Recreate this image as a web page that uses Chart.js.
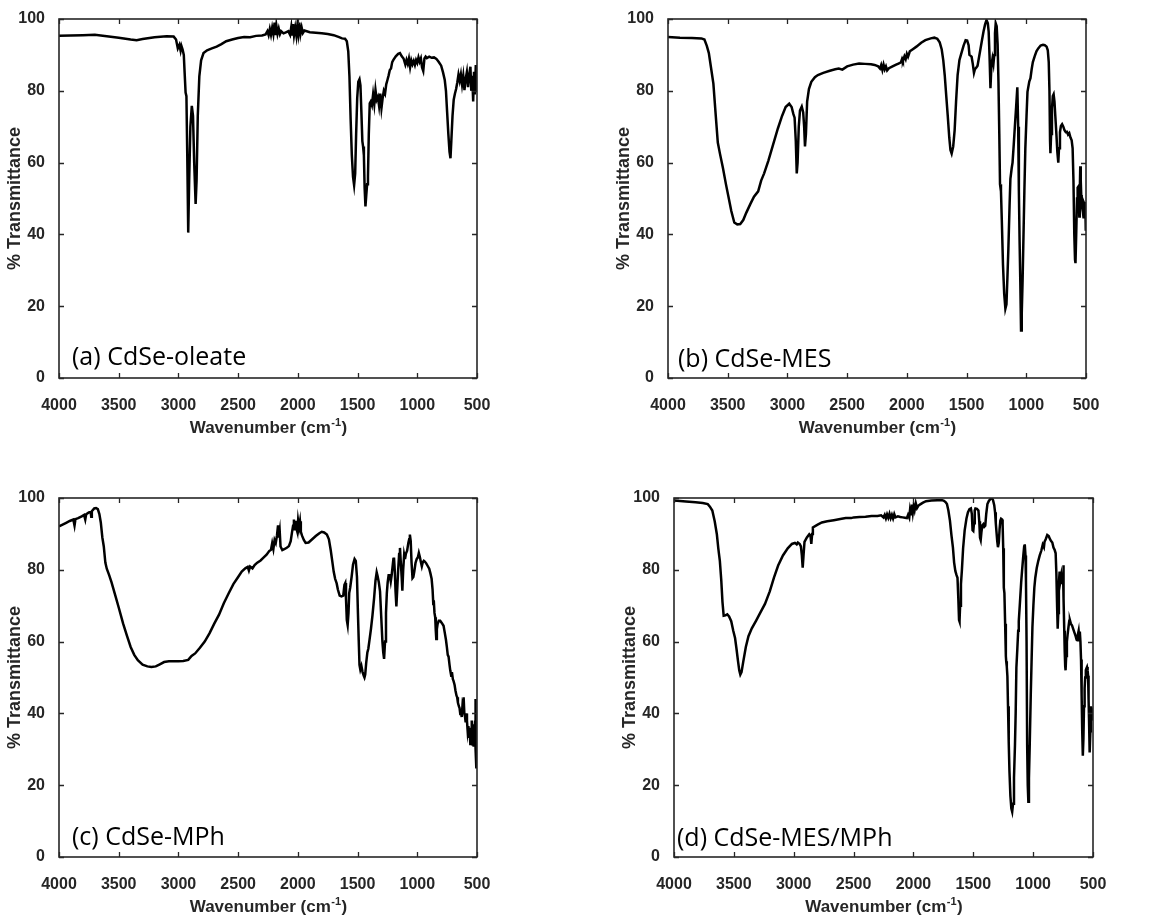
<!DOCTYPE html>
<html>
<head>
<meta charset="utf-8">
<script src="https://cdn.jsdelivr.net/npm/chart.js@4/dist/chart.umd.min.js"></script>
<style>
html,body{margin:0;padding:0;background:#fff;}
body{position:relative;width:1168px;height:916px;overflow:hidden;}
canvas{position:absolute;display:block;}
</style>
</head>
<body>
<canvas id="pa" width="584" height="458" style="left:0px;top:0px;width:584px;height:458px"></canvas>
<canvas id="pb" width="559" height="458" style="left:609px;top:0px;width:559px;height:458px"></canvas>
<canvas id="pc" width="584" height="458" style="left:0px;top:479px;width:584px;height:458px"></canvas>
<canvas id="pd" width="553" height="458" style="left:615px;top:479px;width:553px;height:458px"></canvas>
<script>
// ---------- data ----------
const xTicks = [4000, 3500, 3000, 2500, 2000, 1500, 1000, 500];
const yTicks = [0, 20, 40, 60, 80, 100];
const panelLabels = ['(a) CdSe-oleate', '(b) CdSe-MES', '(c) CdSe-MPh', '(d) CdSe-MES/MPh'];
const xTitleMain = 'Wavenumber (cm';
const xTitleSup = '-1';
const xTitleEnd = ')';
const yTitle = '% Transmittance';

// [wavenumber, %T]
const oleateSpectrum = [
[4000,95.3],[3900,95.4],[3800,95.5],[3700,95.6],[3600,95.2],[3500,94.8],[3400,94.3],[3350,94.1],[3300,94.4],[3200,94.9],
[3100,95.2],[3040,95.1],[3020,94.3],[3005,91.8],[2992,92.8],[2982,91.2],[2975,92.5],[2965,91.5],[2955,90],[2948,85],
[2940,79.5],[2933,78.5],[2926,62],[2918,40.5],[2910,55],[2900,70],[2888,75.8],[2878,73],[2868,60],[2856,48.5],
[2848,55],[2838,73],[2825,84],[2810,88.5],[2790,90.5],[2760,91.3],[2720,91.8],[2680,92.3],[2640,93],[2600,93.8],
[2550,94.3],[2500,94.7],[2450,95.0],[2400,94.9],[2350,95.3],[2300,95.4],[2270,95.7],[2255,96.6],[2245,95.5],[2235,97.2],
[2225,95.6],[2215,97.6],[2205,95.8],[2195,99.0],[2188,95.5],[2180,98.2],[2170,95.9],[2160,97.3],[2150,95.8],[2140,96.6],
[2120,96.0],[2100,96.3],[2080,96.6],[2065,95.6],[2055,97.8],[2048,95.4],[2040,98.6],[2032,95.5],[2022,97.6],[2012,95.3],
[2004,98.2],[1996,96.0],[1988,99.0],[1978,95.8],[1968,97.6],[1958,96.1],[1945,96.8],[1900,96.3],[1850,96.2],[1800,96.0],
[1750,95.8],[1700,95.5],[1660,95.0],[1630,94.6],[1605,94.5],[1590,93.8],[1578,91],[1568,84],[1558,72],[1548,62],
[1538,56],[1529,53.7],[1520,57],[1512,68],[1503,78],[1494,82.5],[1484,83.2],[1476,81.5],[1468,74],[1460,66],
[1454,64.5],[1447,62],[1441,53],[1434,47.8],[1427,51],[1420,54],[1413,56],[1406,68],[1398,76.5],[1390,77],
[1380,76],[1370,79],[1360,76.3],[1350,80.2],[1340,77.5],[1330,78.3],[1320,75.8],[1310,79.2],[1300,75.2],[1290,78],
[1280,80],[1270,79.2],[1260,81.8],[1250,83],[1240,84.3],[1230,85.8],[1220,86.2],[1210,88],[1200,88.6],[1180,89.6],
[1160,90.3],[1145,90.5],[1130,89.6],[1115,89],[1100,87.3],[1090,88.6],[1080,87.5],[1070,89],[1060,86.6],[1050,88.5],
[1040,87.4],[1030,88.3],[1020,87.2],[1010,88.6],[1000,87.8],[990,89.3],[980,88.1],[970,89],[960,86.5],[950,85.5],
[940,89],[930,89.5],[920,89.1],[900,89.5],[880,89.2],[860,89.3],[840,88.9],[820,88],[800,87],[785,85.2],
[770,83],[760,80],[750,74],[740,68],[730,63],[722,61.2],[715,66],[705,73],[695,77.5],[685,79.2],
[675,80.5],[665,82.3],[655,84.5],[645,82.8],[635,84.6],[625,81.8],[615,84.2],[605,80.2],[595,83.3],[585,85.2],
[575,81],[565,84.6],[555,86.7],[548,80],[540,84.2],[532,77],[525,85.3],[518,79],[510,87.2],[505,80],[500,86]
];

const mesSpectrum = [
[4000,95.0],[3900,94.8],[3800,94.7],[3720,94.6],[3695,94.3],[3675,92.5],[3658,90.5],[3640,86.5],[3620,82],[3600,73],
[3583,65.6],[3565,62.5],[3540,58.5],[3515,54],[3495,50.7],[3470,46.5],[3445,43.3],[3420,42.8],[3395,42.9],[3370,44],
[3345,46],[3310,48.5],[3280,50.5],[3245,52],[3220,55],[3195,57],[3160,60.5],[3120,65],[3080,69.5],[3045,73],
[3015,75.5],[2985,76.4],[2965,75.5],[2950,73.5],[2940,72.5],[2930,66],[2922,57],[2915,60],[2905,70],[2895,74.5],
[2880,75.6],[2868,74],[2860,70],[2853,64.5],[2845,68],[2835,77],[2820,80.5],[2800,82.5],[2770,83.8],[2745,84.4],
[2700,85],[2645,85.6],[2600,86],[2570,86.2],[2540,85.9],[2500,86.8],[2450,87.3],[2400,87.6],[2350,87.5],[2300,87.4],
[2270,87.2],[2240,86.8],[2225,86.2],[2215,87.2],[2205,85.8],[2195,87.3],[2185,86],[2175,86.8],[2165,85.7],[2150,86.3],
[2120,86.8],[2090,87.3],[2070,87.6],[2050,87.9],[2040,88.9],[2033,88.3],[2020,89.6],[2010,88.8],[2000,90.3],[1990,89.5],
[1975,91],[1950,91.6],[1920,92.3],[1880,93.4],[1845,94.1],[1800,94.6],[1770,94.8],[1745,94.5],[1725,93.5],[1708,91.5],
[1695,88.5],[1683,84.4],[1670,78.5],[1658,73.2],[1645,67],[1635,63.5],[1625,62.5],[1612,64.5],[1600,69],[1588,77],
[1575,84.4],[1560,88.5],[1545,90.3],[1525,92.6],[1508,94.1],[1495,94],[1483,92.7],[1476,90],[1468,89.8],[1458,89.5],
[1448,87.5],[1438,85],[1430,86],[1418,86.5],[1408,87],[1395,89.5],[1383,91.8],[1370,94.3],[1358,96.5],[1345,98.5],
[1333,99.7],[1322,98.8],[1315,96.5],[1308,90],[1300,80.7],[1292,87],[1283,89],[1275,87.5],[1268,90],[1262,96],
[1256,98.8],[1248,98],[1240,93],[1233,82.5],[1226,68],[1220,54],[1212,52],[1205,44],[1195,31.5],[1185,23.5],
[1175,19.3],[1166,20.5],[1158,28],[1150,36],[1140,48],[1133,55.5],[1122,58.5],[1115,60],[1105,65],[1095,70.4],
[1085,75.5],[1075,81],[1068,70],[1062,52],[1056,38],[1050,26.7],[1044,13.2],[1038,18],[1031,27],[1025,37],
[1016,52],[1008,63.9],[998,73],[990,79.7],[975,82.6],[965,83.5],[955,86],[945,88],[930,89.6],[915,91],
[900,91.8],[880,92.6],[860,92.8],[845,92.7],[830,92.3],[820,91.3],[812,88],[806,80],[801,66],[798,62.6],
[792,68],[785,75],[778,78.5],[771,79],[764,77],[757,73],[748,68],[740,63],[732,60],[726,64],
[718,68.5],[710,70.2],[700,70.7],[690,70],[680,69],[670,68.5],[660,68.6],[650,67.8],[640,68.2],[630,67],
[620,66.2],[612,64],[605,55],[598,40],[592,33],[588,32],[582,40],[575,50],[570,53],[564,53.3],
[560,50],[556,45],[552,52],[548,59],[544,55],[540,51],[536,48],[530,47],[525,46],[522,44.5],
[518,49],[514,48.5],[510,45.5],[506,49],[502,41],[500,48]
];

const mphSpectrum = [
[4000,92.1],[3970,92.6],[3940,93.1],[3910,93.6],[3880,94.0],[3870,92.3],[3862,94.1],[3840,94.4],[3810,94.9],[3790,95.3],
[3780,94.0],[3772,95.5],[3750,96.0],[3735,96.1],[3730,94.8],[3725,96.3],[3705,97.1],[3690,97.2],[3675,96.9],[3662,95.5],
[3650,93.2],[3637,89],[3625,86.5],[3612,82],[3600,80.3],[3580,78.5],[3560,76.5],[3530,73],[3500,69.5],[3463,65],
[3430,61.5],[3400,58.5],[3370,56.3],[3340,54.8],[3300,53.6],[3260,53.1],[3226,52.9],[3190,53.1],[3160,53.6],[3120,54.3],
[3080,54.5],[3040,54.5],[3000,54.5],[2960,54.6],[2918,54.9],[2890,56],[2860,56.7],[2820,58.3],[2780,60],[2740,62.3],
[2700,65],[2660,67.5],[2620,70.7],[2580,73.4],[2540,76],[2500,78],[2470,79.5],[2440,80.4],[2420,80.8],[2410,79.8],
[2400,80.9],[2380,80.4],[2362,81.3],[2340,82],[2312,82.6],[2290,83.3],[2262,84.2],[2240,85.2],[2225,85.6],[2215,87.4],
[2205,85.8],[2195,88.3],[2185,87.5],[2175,89.5],[2166,92.4],[2160,89],[2152,90.8],[2145,86.5],[2130,85.5],[2110,85.8],
[2090,86.2],[2075,86.6],[2060,88],[2050,90.2],[2040,92.3],[2033,94],[2025,91],[2018,93.6],[2012,91.5],[2004,90.5],
[1998,93.7],[1990,91.8],[1982,93.5],[1975,90.6],[1965,89.5],[1950,88.3],[1935,87.5],[1910,87.6],[1880,88.5],[1850,89.4],
[1820,90.2],[1800,90.6],[1780,90.4],[1757,89.8],[1740,88.5],[1725,85.5],[1712,82.4],[1700,79.5],[1688,77.5],[1675,76.2],
[1665,74.5],[1650,72.8],[1635,72.6],[1620,72.8],[1610,75.8],[1603,76.3],[1597,72],[1590,66],[1583,64.6],[1576,68],
[1570,73.5],[1562,75],[1550,78],[1538,81.5],[1525,83],[1515,82.5],[1505,78],[1497,68],[1490,60],[1484,53.5],
[1477,52.2],[1468,53.2],[1458,51.5],[1448,50.5],[1442,50],[1436,50.8],[1428,54],[1418,57],[1410,58],[1400,60.5],
[1388,63.5],[1375,67.4],[1362,72],[1350,77],[1340,79.3],[1332,78.2],[1322,76.5],[1312,74],[1302,67],[1292,60],
[1285,57],[1278,55.2],[1270,60],[1262,68],[1255,73.5],[1248,76.5],[1240,78.5],[1230,78.5],[1222,76.8],[1215,78.4],
[1208,80.5],[1200,83],[1195,83.4],[1188,79.5],[1182,74],[1175,69.8],[1168,74.5],[1160,80],[1152,84.4],[1145,86.1],
[1138,82],[1130,77.5],[1125,74.2],[1118,80],[1110,84.2],[1103,83],[1095,84.5],[1085,85.3],[1075,87.5],[1068,88.5],
[1062,89.8],[1055,88],[1048,82],[1040,77.7],[1033,78],[1025,79.5],[1015,81.9],[1005,83],[995,83.5],[987,84.7],
[978,83.5],[970,82.2],[962,81],[955,82],[945,82.5],[937,82.3],[925,81.8],[915,81.2],[900,80.3],[890,79],
[880,77.5],[872,74.5],[866,70.5],[862,71.5],[856,68],[850,66.8],[845,63],[841,60.7],[836,63.5],[830,64.9],
[820,65.8],[808,65.8],[795,65.2],[780,64.4],[770,62.5],[760,60.5],[752,58.4],[745,56.3],[738,55.8],[730,53.5],
[724,52],[716,50.5],[710,51.5],[702,49.5],[696,49],[688,48],[680,46.3],[672,45],[666,44.5],[660,43],
[652,42],[646,41.5],[640,39.8],[634,40.5],[628,39],[622,42],[616,41],[612,44.5],[606,40],[600,39],
[595,37.5],[590,40],[584,37.9],[578,35],[572,36.5],[566,33.5],[560,34.5],[556,31.5],[552,36],[548,33],
[544,38],[540,35.5],[536,31],[532,34],[528,30.7],[524,37],[520,32],[516,38],[514,44],[510,30],
[506,25],[503,38],[500,33]
];

const mesMphSpectrum = [
[4000,99.3],[3900,99.0],[3820,98.8],[3760,98.6],[3718,98.3],[3700,97.6],[3680,96.5],[3660,93.5],[3642,89.9],[3630,86],
[3617,82.5],[3605,77],[3595,71],[3585,67.2],[3570,67.3],[3555,67.6],[3540,67],[3522,65.7],[3505,63],[3490,61],
[3478,58],[3465,54.5],[3455,52],[3446,50.8],[3436,51.5],[3421,54.5],[3400,58.5],[3378,61.5],[3350,63.7],[3315,65.8],
[3280,68],[3240,70.5],[3200,74],[3165,77.8],[3130,81.2],[3090,84],[3050,86],[3015,87.2],[2990,87.5],[2975,87.1],
[2965,87.6],[2950,87.2],[2940,86.5],[2932,84],[2925,80.6],[2918,84],[2910,87.8],[2890,89],[2870,89.9],[2860,89.5],
[2853,87.2],[2846,90],[2840,91.8],[2800,92.6],[2765,93.2],[2720,93.5],[2665,93.8],[2600,94.2],[2565,94.4],[2520,94.4],
[2500,94.6],[2450,94.7],[2400,94.8],[2350,95.0],[2300,95.0],[2270,95.2],[2250,94.6],[2240,95.3],[2230,94.3],[2220,95.4],
[2210,94.5],[2200,95.6],[2190,94.4],[2180,95.3],[2170,94.3],[2160,95.5],[2150,94.6],[2130,94.9],[2110,94.7],[2090,94.6],
[2070,94.5],[2055,94.4],[2045,95.3],[2035,94.5],[2028,96.8],[2020,95.5],[2012,98.2],[2005,96],[1998,97.8],[1990,96.6],
[1980,98.5],[1970,97.2],[1958,97.9],[1940,98.3],[1920,98.7],[1895,99.1],[1850,99.3],[1800,99.4],[1760,99.4],[1745,99.2],
[1730,98.8],[1720,98.3],[1708,96.5],[1695,93.7],[1682,89.5],[1670,86.2],[1660,82],[1650,79.7],[1640,78.5],[1632,77.8],
[1625,72],[1619,66],[1615,65.6],[1610,70],[1603,76],[1595,80],[1585,86],[1572,91],[1557,94.3],[1545,96],
[1532,96.9],[1520,97.1],[1512,95.5],[1506,91],[1500,90.8],[1494,93],[1488,96.5],[1482,97.1],[1470,97],[1457,96.5],
[1450,93.5],[1444,89],[1438,88.3],[1432,90.5],[1424,92.4],[1416,92.7],[1408,92],[1400,92.3],[1392,95.5],[1382,98.3],
[1370,99.2],[1355,99.8],[1345,100],[1335,99.4],[1325,98],[1318,96],[1312,93],[1306,90.5],[1300,88],[1294,86.3],
[1287,87.5],[1280,91.5],[1274,93.7],[1268,94.2],[1260,94],[1255,92.7],[1250,86],[1245,75],[1240,73.5],[1234,65],
[1228,56],[1225,54.5],[1220,53],[1215,50.3],[1210,42],[1204,32],[1198,24],[1190,17],[1182,13.5],[1175,12.6],
[1168,14.8],[1160,22],[1152,31],[1146,40],[1140,52.7],[1132,58],[1125,63],[1120,65.7],[1110,71],[1100,76.5],
[1092,80],[1082,84],[1075,86.5],[1070,87.1],[1064,84],[1060,77],[1055,60],[1050,31.2],[1045,20],[1040,15.4],
[1035,22],[1028,32],[1020,45],[1012,56],[1006,64],[998,70],[990,75],[982,77.8],[970,80.5],[957,82.5],
[945,84],[932,85.3],[920,87],[910,86.3],[905,87.8],[895,88.5],[882,89.7],[870,89.4],[860,88.6],[850,88],
[840,87.6],[830,86.2],[820,85.5],[812,84.6],[806,79],[800,70],[795,63.6],[790,68],[785,76],[779,79.5],
[772,77],[765,78.5],[757,76],[750,79],[748,81.3],[744,72],[740,63],[736,57],[732,53],[729,52],
[724,56],[718,60],[712,62],[705,64],[698,65.8],[693,66],[685,65],[675,64.5],[665,63.5],[655,62.5],
[645,61.5],[637,60.5],[632,60.4],[626,62],[620,63],[615,61],[610,62.8],[605,60],[600,55],[595,45],
[590,35],[585,28.2],[580,33],[575,42],[570,47],[565,50],[560,52],[555,52.5],[550,52.9],[545,52],
[541,50.5],[537,44],[533,38],[530,33],[526,29.1],[522,35],[518,42],[515,40],[510,38.5],[505,39.5],[500,38]
];

// ---------- styling / layout ----------
const AXIS_COLOR = '#262626';
const SANS = '"Liberation Sans", Arial, Helvetica, sans-serif';

const panels = [
  {id:'pa', spectrum: oleateSpectrum,  label: panelLabels[0], padRight:107, dx:13, dy:13},
  {id:'pb', spectrum: mesSpectrum,     label: panelLabels[1], padRight:82,  dx:10, dy:11},
  {id:'pc', spectrum: mphSpectrum,     label: panelLabels[2], padRight:107, dx:13, dy:12},
  {id:'pd', spectrum: mesMphSpectrum,  label: panelLabels[3], padRight:75,  dx:3,  dy:11}
];

const framePlugin = {
  id: 'frame',
  afterDraw(chart, args, opts) {
    const {ctx, chartArea, scales} = chart;
    const {left, right, top, bottom} = chartArea;
    ctx.save();
    // box
    ctx.strokeStyle = AXIS_COLOR;
    ctx.lineWidth = 1.6;
    ctx.strokeRect(left, top, right - left, bottom - top);
    // inward ticks on all four sides
    ctx.lineWidth = 1.3;
    ctx.beginPath();
    scales.x.ticks.forEach(t => {
      const px = Math.round(scales.x.getPixelForValue(t.value)) + 0.5;
      ctx.moveTo(px, bottom); ctx.lineTo(px, bottom - 5);
      ctx.moveTo(px, top); ctx.lineTo(px, top + 5);
    });
    scales.y.ticks.forEach(t => {
      const py = Math.round(scales.y.getPixelForValue(t.value)) + 0.5;
      ctx.moveTo(left, py); ctx.lineTo(left + 5, py);
      ctx.moveTo(right, py); ctx.lineTo(right - 5, py);
    });
    ctx.stroke();
    // x axis title with superscript
    const cx = (left + right) / 2;
    const by = bottom + 55;
    const mainFont = 'bold 17px ' + SANS;
    const supFont = 'bold 11px ' + SANS;
    ctx.font = mainFont;
    const w1 = ctx.measureText(xTitleMain).width;
    const w3 = ctx.measureText(xTitleEnd).width;
    ctx.font = supFont;
    const w2 = ctx.measureText(xTitleSup).width;
    let sx = cx - (w1 + w2 + w3) / 2;
    ctx.fillStyle = AXIS_COLOR;
    ctx.textBaseline = 'alphabetic';
    ctx.textAlign = 'left';
    ctx.font = mainFont;
    ctx.fillText(xTitleMain, sx, by);
    ctx.font = supFont;
    ctx.fillText(xTitleSup, sx + w1 + 0.5, by - 7);
    ctx.font = mainFont;
    ctx.fillText(xTitleEnd, sx + w1 + w2 + 1, by);
    // panel label
    ctx.font = '25px "Open Sans", "Noto Sans", sans-serif';
    ctx.fillStyle = '#000';
    ctx.fillText(opts.label, left + opts.dx, bottom - opts.dy);
    ctx.restore();
  }
};

panels.forEach(p => {
  const canvas = document.getElementById(p.id);
  new Chart(canvas, {
    type: 'line',
    data: {
      datasets: [{
        data: p.spectrum.map(([x, y]) => ({x, y})),
        borderColor: '#000',
        borderWidth: 2.5,
        pointRadius: 0,
        fill: false,
        tension: 0
      }]
    },
    options: {
      responsive: false,
      devicePixelRatio: 1,
      animation: false,
      events: [],
      layout: {padding: {top: 19, right: p.padRight, bottom: 0, left: 0}},
      plugins: {
        legend: {display: false},
        tooltip: {enabled: false},
        frame: {label: p.label, dx: p.dx, dy: p.dy}
      },
      scales: {
        x: {
          type: 'linear',
          reverse: true,
          min: 500,
          max: 4000,
          grid: {display: false},
          border: {display: false},
          afterBuildTicks: s => { s.ticks = xTicks.map(v => ({value: v})); },
          afterFit: s => { s.height = 80; },
          ticks: {
            autoSkip: false,
            maxRotation: 0,
            padding: 10,
            color: AXIS_COLOR,
            font: {family: SANS, size: 16, weight: 'bold'},
            callback: v => String(v)
          },
          title: {display: false}
        },
        y: {
          type: 'linear',
          min: 0,
          max: 100,
          grid: {display: false},
          border: {display: false},
          afterBuildTicks: s => { s.ticks = yTicks.map(v => ({value: v})); },
          afterFit: s => { s.width = 59; },
          ticks: {
            padding: 6,
            color: AXIS_COLOR,
            font: {family: SANS, size: 16, weight: 'bold'},
            callback: v => String(v)
          },
          title: {
            display: true,
            text: yTitle,
            color: AXIS_COLOR,
            font: {family: SANS, size: 18, weight: 'bold'},
            padding: {top: 4, bottom: 0}
          }
        }
      }
    },
    plugins: [framePlugin]
  });
});
</script>
</body>
</html>
